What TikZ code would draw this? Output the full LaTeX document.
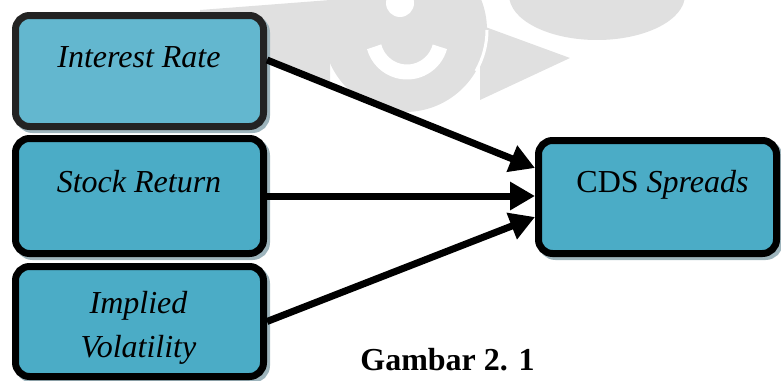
\documentclass[tikz,border=0pt]{standalone}
\usepackage{fontspec}
\setmainfont{Liberation Serif}
\usetikzlibrary{arrows.meta}
\definecolor{boxfill}{HTML}{4BACC6}
\definecolor{boxfilllight}{HTML}{63B7CF}
\definecolor{boxdark}{HTML}{232323}
\definecolor{shadowc}{HTML}{9DB4BC}
\definecolor{wmark}{HTML}{E0E0E0}
\begin{document}
\begin{tikzpicture}[x=1pt,y=-1pt,
  boxshape/.style={draw=black, fill=boxfill, line width=7pt, rounded corners=14pt,
    inner sep=0pt,
    preaction={draw=shadowc, fill=shadowc, line width=7pt,
      transform canvas={shift={(3pt,-3pt)}}}},
  lbl/.style={anchor=base, font=\fontsize{32}{38}\selectfont\itshape, inner sep=0pt},
  arr/.style={draw=black, line width=7pt, -{Triangle[length=25pt,width=27pt]}}]
\useasboundingbox (0,0) rectangle (781,380);
% faint watermark
\fill[wmark] (405,30) circle[radius=82];
\fill[wmark] (597,-5) ellipse[x radius=88, y radius=45];
\fill[wmark] (330,0) -- (330,85) -- (200,30) -- (200,10) -- cycle;
\fill[wmark] (480,25) -- (570,58) -- (480,100) -- cycle;
\draw[white, line width=3pt] (405,30) ++(0:82) arc[start angle=0, end angle=30, radius=82];
\draw[white, line width=15pt] (407,38) ++(15:34) arc[start angle=15, end angle=165, radius=34];
\fill[white] (400,3) circle[radius=14];
% boxes
\node[boxshape, fill=boxfilllight, draw=boxdark, minimum width=248pt, minimum height=111pt] (ir) at (139.5,71) {};
\node[boxshape, minimum width=248pt, minimum height=115pt] (sr) at (139.5,196) {};
\node[boxshape, minimum width=248pt, minimum height=110pt] (iv) at (139.5,321.5) {};
\node[boxshape, minimum width=238pt, minimum height=113pt] (cds) at (657.5,197) {};
% labels
\node[lbl] (irt) at (139,67) {Interest Rate};
\node[lbl] (srt) at (139,192) {Stock Return};
\node[lbl] (ivt1) at (138.5,313) {Implied};
\node[lbl] (ivt2) at (138.5,357) {Volatility};
\node[lbl, font=\fontsize{32}{38}\selectfont] (cdst) at (662.5,192) {CDS \textit{Spreads}};
\node[anchor=base, inner sep=0pt, font=\fontsize{32}{38}\selectfont\bfseries] (cap) at (447.5,370) {Gambar 2. 1};
% arrows
\draw[arr] ([yshift=11pt]ir.east) -- ([yshift=29pt]cds.west);
\draw[arr] (sr.east) -- (sr.east -| cds.west);
\draw[arr] (iv.east) -- ([yshift=-20pt]cds.west);
\end{tikzpicture}
\end{document}
